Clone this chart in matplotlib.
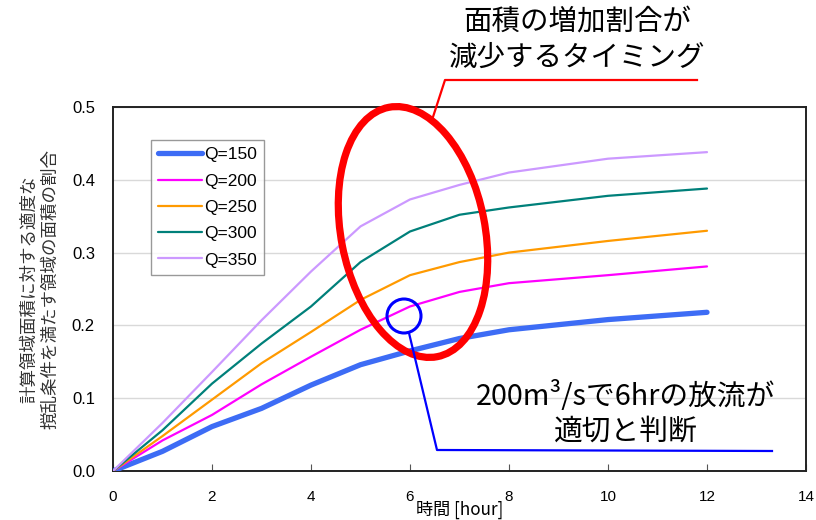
import matplotlib
matplotlib.use("Agg")
import matplotlib.pyplot as plt
from matplotlib.patches import Ellipse, Circle

hours = [0, 1, 2, 3, 4, 5, 6, 7, 8, 10, 12]
series_names = ["Q=150", "Q=200", "Q=250", "Q=300", "Q=350"]
q150 = [0.0, 0.027, 0.061, 0.086, 0.118, 0.146, 0.165, 0.182, 0.194, 0.208, 0.218]
q200 = [0.0, 0.042, 0.077, 0.119, 0.157, 0.194, 0.226, 0.246, 0.258, 0.269, 0.281]
q250 = [0.0, 0.048, 0.098, 0.148, 0.191, 0.235, 0.269, 0.287, 0.300, 0.316, 0.330]
q300 = [0.0, 0.056, 0.120, 0.175, 0.226, 0.287, 0.329, 0.352, 0.362, 0.378, 0.388]
q350 = [0.0, 0.066, 0.136, 0.207, 0.274, 0.336, 0.373, 0.393, 0.410, 0.429, 0.438]
all_series = [q150, q200, q250, q300, q350]
colors = ["#3D6CF5", "#FF00FF", "#FF9A00", "#00807A", "#CC99FF"]
widths = [3.8, 1.6, 1.6, 1.6, 1.6]
xticks = [0, 2, 4, 6, 8, 10, 12, 14]
yticks = [0.0, 0.1, 0.2, 0.3, 0.4, 0.5]

jp = ["Noto Sans CJK JP", "DejaVu Sans"]

fig = plt.figure(figsize=(8.16, 5.2), dpi=100)
ax = fig.add_axes([113/816, 49/520, 693/816, 364/520])

for name, vals, c, w in zip(series_names, all_series, colors, widths):
    ax.plot(hours, vals, color=c, lw=w, label=name, solid_capstyle="round", zorder=3)

ax.set_xlim(0, 14)
ax.set_ylim(0, 0.5)
ax.set_xticks(xticks)
ax.set_yticks(yticks)
ax.set_xticklabels([str(t) for t in xticks], fontsize=11, family="Liberation Sans")
ax.set_yticklabels([f"{t:.1f}" for t in yticks], fontsize=12, family="Liberation Sans")
ax.tick_params(axis="x", direction="in", length=5, pad=14, color="#555555")
ax.tick_params(axis="y", direction="in", length=0, pad=13)
ax.grid(axis="y", color="#D9D9D9", lw=1)
ax.set_axisbelow(True)
for s in ax.spines.values():
    s.set_linewidth(1.4)
    s.set_color("#222222")

ax.set_xlabel("時間 [hour]", family=jp, fontsize=12.3, labelpad=-3)
ax.set_ylabel("計算領域面積に対する適度な\n撹乱条件を満たす領域の面積の割合",
              family=jp, fontsize=12.6, color="#333333", labelpad=9, linespacing=1.25)

leg = ax.legend(loc="upper left", bbox_to_anchor=(38/693, 1 - 33/364),
                prop={"family": "Liberation Sans", "size": 12.5},
                frameon=True, fancybox=False, edgecolor="#808080",
                handlelength=2.5, handletextpad=0.15, labelspacing=0.64,
                borderpad=0.42, borderaxespad=0)
leg.get_frame().set_linewidth(1.0)

# overlay in pixel coordinates for annotations
ov = fig.add_axes([0, 0, 1, 1], facecolor="none")
ov.set_xlim(0, 816)
ov.set_ylim(520, 0)
ov.axis("off")

ov.add_patch(Ellipse((413, 232), width=144, height=254, angle=-11,
                     fill=False, edgecolor="#FF0000", lw=5.2))
ov.plot([432, 445, 697], [120, 80, 80], color="#FF0000", lw=1.6)
ov.text(577, 22, "面積の増加割合が", family=jp, fontsize=20.5, ha="center", va="center")
ov.text(577, 58, "減少するタイミング", family=jp, fontsize=20.5, ha="center", va="center")

ov.add_patch(Circle((404, 316), 17, fill=False, edgecolor="#0000FF", lw=2.2))
ov.plot([409, 437, 772], [333, 450, 451], color="#0000FF", lw=1.6)
ov.text(626, 397, "200m³/sで6hrの放流が", family=jp, fontsize=20.7, ha="center", va="center")
ov.text(626, 432, "適切と判断", family=jp, fontsize=20.7, ha="center", va="center")

fig.savefig("out.png", dpi=100)
